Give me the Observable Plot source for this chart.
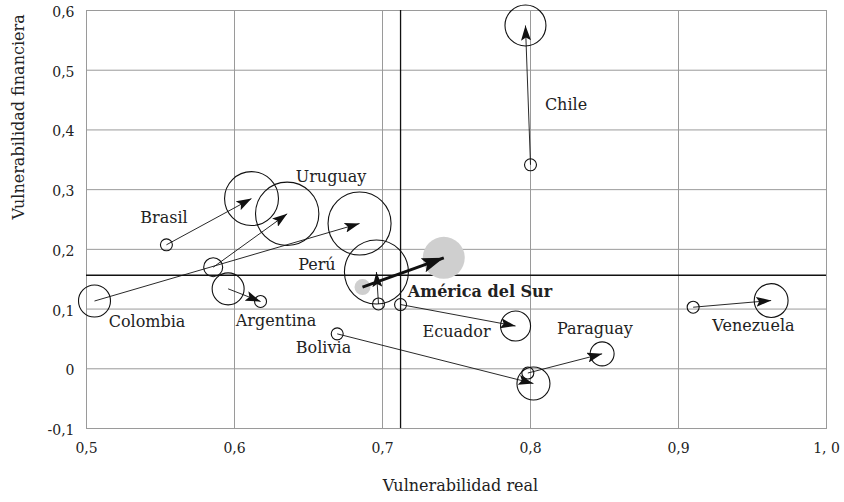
<!DOCTYPE html>
<html>
<head>
<meta charset="utf-8">
<script src="https://cdn.jsdelivr.net/npm/d3@7"></script>
<script src="https://cdn.jsdelivr.net/npm/@observablehq/plot@0.6"></script>
<style>
  body { margin: 0; background: #fff; }
</style>
</head>
<body>
<div id="chart"></div>
<script>
// ---- Data ----
const countries = ["Brasil", "Uruguay", "Colombia", "Argentina", "Perú", "Ecuador", "Bolivia", "Paraguay", "Venezuela", "Chile", "América del Sur"];
const startReal = [0.5540, 0.5856, 0.5054, 0.5957, 0.6973, 0.7122, 0.6694, 0.7982, 0.9099, 0.8000, 0.6865];
const startFin  = [0.2076, 0.1701, 0.1135, 0.1339, 0.1085, 0.1076, 0.0585, -0.0071, 0.1031, 0.3416, 0.1369];
const startSize = [0.035, 0.088, 0.25, 0.25, 0.035, 0.035, 0.035, 0.035, 0.035, 0.035, 0.0625];
const endReal   = [0.6115, 0.6356, 0.6845, 0.6176, 0.6959, 0.7899, 0.8020, 0.8484, 0.9626, 0.7966, 0.7414];
const endFin    = [0.2850, 0.2595, 0.2433, 0.1127, 0.1621, 0.0716, -0.0247, 0.0250, 0.1143, 0.5749, 0.1858];
const endSize   = [0.71, 0.98, 0.97, 0.035, 1.0, 0.22, 0.266, 0.14, 0.28, 0.41, 0.43];

const meanReal = [0.7122];
const meanFin = [0.1566];

const xTicks = [0.5, 0.6, 0.7, 0.8, 0.9, 1.0];
const xTickLabels = ["0,5", "0,6", "0,7", "0,8", "0,9", "1, 0"];
const yTicks = [-0.1, 0, 0.1, 0.2, 0.3, 0.4, 0.5, 0.6];
const yTickLabels = ["-0,1", "0", "0,1", "0,2", "0,3", "0,4", "0,5", "0,6"];

const xTitle = "Vulnerabilidad real";
const yTitle = "Vulnerabilidad financiera";

// ---- Label layout (pixel offsets from an anchor point) ----
const labelLayout = [
  {name: "Brasil", at: "start", dx: -2.5, dy: -26.7},
  {name: "Uruguay", at: "end", dx: 43.8, dy: -36.8},
  {name: "Colombia", at: "start", dx: 52.5, dy: 20.9},
  {name: "Argentina", at: "end", dx: 15.5, dy: 18.9},
  {name: "Perú", at: "end", dx: -59.5, dy: -7.3},
  {name: "América del Sur", at: "end", dx: 36.2, dy: 33.6},
  {name: "Ecuador", at: "end", dx: -59, dy: 5.4},
  {name: "Bolivia", at: "start", dx: -13.7, dy: 14.3},
  {name: "Paraguay", at: "end", dx: -7.2, dy: -25.1},
  {name: "Venezuela", at: "end", dx: -17.7, dy: 25.6},
  {name: "Chile", at: "start", dx: 35.5, dy: -60.4}
];

const rows = countries.map((c, i) => ({
  country: c,
  x1: startReal[i], y1: startFin[i], s1: startSize[i],
  x2: endReal[i], y2: endFin[i], s2: endSize[i],
  region: c === "América del Sur"
}));
const countryRows = rows.filter(d => !d.region);
const regionRows = rows.filter(d => d.region);

const starts = rows.map(d => ({country: d.country, x: d.x1, y: d.y1, s: d.s1, region: d.region}));
const ends = rows.map(d => ({country: d.country, x: d.x2, y: d.y2, s: d.s2, region: d.region}));

const xFmt = new Map(xTicks.map((t, i) => [Math.round(t * 10), xTickLabels[i]]));
const yFmt = new Map(yTicks.map((t, i) => [Math.round(t * 10), yTickLabels[i]]));

const labelMarks = labelLayout.map(l => {
  const r = rows.find(d => d.country === l.name);
  const p = l.at === "start" ? {x: r.x1, y: r.y1} : {x: r.x2, y: r.y2};
  return Plot.text([{...p, text: l.name}], {
    x: "x", y: "y", text: "text", dx: l.dx, dy: l.dy,
    fontSize: 16, fill: "#222",
    fontWeight: r.region ? "bold" : "normal"
  });
});

const chart = Plot.plot({
  width: 844,
  height: 502,
  marginLeft: 86,
  marginRight: 18,
  marginTop: 10,
  marginBottom: 74,
  style: {fontFamily: "'DejaVu Serif', serif", fontSize: "14px", color: "#222", background: "#fff"},
  x: {domain: [0.5, 1.0], axis: null},
  y: {domain: [-0.1, 0.6], axis: null},
  r: {type: "sqrt", domain: [0, 1], range: [0, 32]},
  marks: [
    Plot.ruleX(xTicks.slice(1, -1), {stroke: "#9a9a9a", strokeWidth: 1}),
    Plot.ruleY(yTicks.slice(1, -1), {stroke: "#9a9a9a", strokeWidth: 1}),
    Plot.frame({stroke: "#9a9a9a", strokeWidth: 1}),
    Plot.ruleX(meanReal, {stroke: "#111", strokeWidth: 1.3}),
    Plot.ruleY(meanFin, {stroke: "#111", strokeWidth: 1.3}),
    Plot.axisX(xTicks, {tickSize: 0, tickPadding: 15, fontSize: 14, tickFormat: d => xFmt.get(Math.round(d * 10)), label: null}),
    Plot.axisY(yTicks, {tickSize: 0, tickPadding: 12, fontSize: 14, dy: 2, tickFormat: d => yFmt.get(Math.round(d * 10)), label: null}),
    // region circles (filled grey)
    Plot.dot(starts.filter(d => d.region), {x: "x", y: "y", r: "s", fill: "#cfcfcf", stroke: "none"}),
    Plot.dot(ends.filter(d => d.region), {x: "x", y: "y", r: "s", fill: "#cfcfcf", stroke: "none"}),
    // country circles
    Plot.dot(starts.filter(d => !d.region), {x: "x", y: "y", r: "s", fill: "none", stroke: "#111", strokeWidth: 1.1}),
    Plot.dot(ends.filter(d => !d.region), {x: "x", y: "y", r: "s", fill: "none", stroke: "#111", strokeWidth: 1.1}),
    // arrows
    Plot.link(countryRows, {x1: "x1", y1: "y1", x2: "x2", y2: "y2", stroke: "#111", strokeWidth: 0.9, ariaDescription: "flechas"}),
    Plot.link(regionRows, {x1: "x1", y1: "y1", x2: "x2", y2: "y2", stroke: "#111", strokeWidth: 3, ariaDescription: "flecha-region"}),
    ...labelMarks,
    Plot.text([xTitle], {frameAnchor: "bottom", dy: 62, dx: 4, fontSize: 16, fill: "#222"}),
    Plot.text([yTitle], {frameAnchor: "left", dx: -68, rotate: -90, fontSize: 16, fill: "#222"})
  ]
});

document.getElementById("chart").appendChild(chart);

// filled arrowheads
const svg = d3.select(chart);
const defs = svg.insert("defs", ":first-child");
function addMarker(id, len, wid) {
  defs.append("marker")
    .attr("id", id)
    .attr("viewBox", `${-len} ${-wid / 2} ${len} ${wid}`)
    .attr("markerWidth", len)
    .attr("markerHeight", wid)
    .attr("markerUnits", "userSpaceOnUse")
    .attr("refX", 0).attr("refY", 0)
    .attr("orient", "auto")
    .append("path")
    .attr("d", `M0,0L${-len},${-wid / 2}L${-len * 0.8},0L${-len},${wid / 2}Z`)
    .attr("fill", "#111");
}
addMarker("punta", 15, 10);
addMarker("punta-gruesa", 22, 15);
svg.selectAll('g[aria-description="flechas"] path').attr("marker-end", "url(#punta)");
svg.selectAll('g[aria-description="flecha-region"] path').attr("marker-end", "url(#punta-gruesa)");
</script>
</body>
</html>
